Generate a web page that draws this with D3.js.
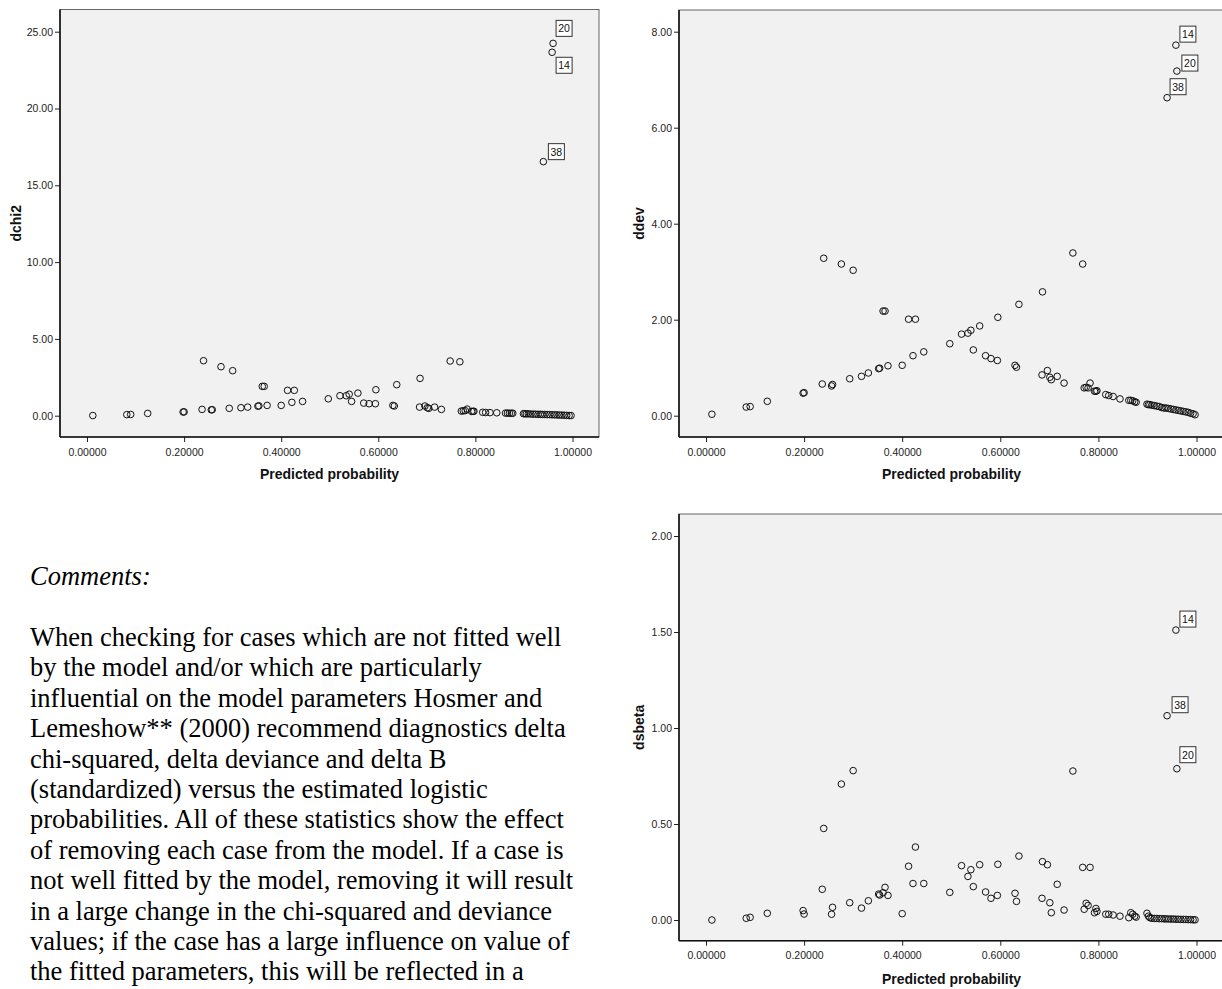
<!DOCTYPE html>
<html>
<head>
<meta charset="utf-8">
<script src="https://cdn.jsdelivr.net/npm/d3@7"></script>
<style>
  body { margin: 0; background: #fff; }
  svg { display: block; }
</style>
</head>
<body>
<script>
// predicted probability for each case (x axis of all three plots)
var prob = [
  .012, .082, .090, .125, .198, .200, .237, .256, .258, .293, .317, .331, .352, .354,
  .371, .400, .422, .444, .497, .521, .534, .540, .558, .595, .638, .686, .748, .768,
  .240, .276, .300, .361, .365, .413, .427, .545, .570, .581, .594, .630, .633, .685,
  .696, .701, .704, .716, .730, .771, .775, .779, .783, .792, .795, .797, .815, .821,
  .830, .844, .862, .866, .870, .874, .877, .899, .902, .905, .909, .914, .919, .924,
  .929, .934, .938, .943, .948, .953, .958, .963, .968, .973, .978, .983, .988, .993,
  .997,
  .958, .960, .940
];
var dchi2 = [
  .01, .07, .08, .15, .24, .25, .41, .38, .39, .48, .52, .56, .62, .64,
  .67, .67, .87, .93, 1.10, 1.30, 1.30, 1.40, 1.47, 1.69, 2.02, 2.43, 3.56, 3.51,
  3.58, 3.19, 2.93, 1.91, 1.91, 1.65, 1.65, .93, .82, .78, .78, .67, .63, .56,
  .63, .52, .48, .56, .41, .30, .32, .33, .43, .28, .28, .29, .22, .21,
  .20, .19, .17, .17, .16, .16, .16, .13, .13, .12, .12, .11, .10, .10,
  .09, .09, .08, .08, .07, .07, .06, .06, .05, .04, .04, .03, .02, .01,
  .01,
  23.66, 24.24, 16.54
];
var ddev = [
  .03, .18, .19, .30, .47, .48, .66, .62, .65, .77, .82, .89, .98, .99,
  1.04, 1.05, 1.25, 1.33, 1.50, 1.70, 1.72, 1.78, 1.87, 2.05, 2.32, 2.58, 3.39, 3.16,
  3.28, 3.16, 3.03, 2.18, 2.18, 2.01, 2.01, 1.37, 1.25, 1.19, 1.15, 1.05, 1.01, .85,
  .94, .80, .75, .82, .68, .58, .59, .58, .68, .51, .51, .52, .44, .42,
  .40, .35, .32, .32, .31, .29, .28, .24, .23, .23, .22, .21, .20, .19,
  .17, .16, .16, .15, .14, .13, .12, .11, .10, .09, .08, .07, .05, .04,
  .02,
  7.72, 7.18, 6.625
];
var dsbeta = [
  .000, .009, .014, .035, .049, .031, .160, .030, .066, .090, .062, .100, .135, .130,
  .128, .033, .190, .190, .144, .283, .227, .262, .288, .290, .333, .304, .776, .274,
  .477, .708, .778, .142, .170, .280, .380, .174, .146, .113, .128, .139, .097, .113,
  .288, .090, .038, .186, .052, .056, .087, .076, .274, .038, .060, .045, .030, .030,
  .026, .020, .012, .038, .030, .020, .015, .035, .020, .012, .009, .008, .008, .007,
  .007, .006, .006, .005, .005, .005, .004, .004, .003, .003, .003, .002, .002, .001,
  .001,
  1.51, .788, 1.064
];
// the last three cases are the labelled outliers
var outlierIds = ["14", "20", "38"];

var xTicks = [0, .2, .4, .6, .8, 1];
var dchi2Ticks = [0, 5, 10, 15, 20, 25];
var ddevTicks = [0, 2, 4, 6, 8];
var dsbetaTicks = [0, .5, 1, 1.5, 2];

var W = 1222, H = 989;
var svg = d3.select("body").append("svg")
  .attr("width", W)
  .attr("height", H)
  .style("font-family", "'Liberation Sans', Arial, sans-serif");

var panels = [
  { vals: dchi2, ticks: dchi2Ticks, title: "dchi2",
    frame: [60, 9.5, 599, 437], xr: [87, 572.5], yd: [0, 25], yr: [415.7, 31.7],
    titleX: 20.5, xLabY: 456, xTitleY: 479,
    off: { "14": [4, 5], "20": [3, -23], "38": [5, -18] } },
  { vals: ddev, ticks: ddevTicks, title: "ddev",
    frame: [679, 10, 1240, 437], xr: [706, 1196.5], yd: [0, 8], yr: [415.7, 31.7],
    titleX: 644, xLabY: 456, xTitleY: 479,
    off: { "14": [4, -19], "20": [5, -16], "38": [3, -19] } },
  { vals: dsbeta, ticks: dsbetaTicks, title: "dsbeta",
    frame: [679, 514, 1240, 940.7], xr: [706, 1196.5], yd: [0, 2], yr: [920, 536],
    titleX: 644, xLabY: 959, xTitleY: 984,
    off: { "14": [4, -19], "20": [3, -22], "38": [5, -19] } }
];

panels.forEach(function(p) {
  var f = p.frame;
  var x = d3.scaleLinear().domain([0, 1]).range(p.xr);
  var y = d3.scaleLinear().domain(p.yd).range(p.yr);
  var g = svg.append("g");

  g.append("rect")
    .attr("x", f[0]).attr("y", f[1])
    .attr("width", f[2] - f[0]).attr("height", f[3] - f[1])
    .attr("fill", "#f0f1f0")
    .attr("stroke", "#666")
    .attr("stroke-width", 1);

  // axes
  var ya = g.append("g")
    .attr("transform", "translate(" + f[0] + ",0)")
    .call(d3.axisLeft(y).tickValues(p.ticks).tickFormat(d3.format(".2f"))
      .tickSize(5).tickPadding(2));
  var xa = g.append("g")
    .attr("transform", "translate(0," + f[3] + ")")
    .call(d3.axisBottom(x).tickValues(xTicks).tickFormat(d3.format(".5f"))
      .tickSize(5).tickPadding(4));
  [ya, xa].forEach(function(a) {
    a.select(".domain").remove();
    a.selectAll("line").attr("stroke", "#222");
    a.selectAll("text").attr("fill", "#222").style("font-size", "10.5px")
      .style("font-family", "'Liberation Sans', Arial, sans-serif");
  });
  xa.selectAll("text").attr("y", p.xLabY - f[3]).attr("dy", 0);

  g.append("line")
    .attr("x1", f[0]).attr("x2", f[0]).attr("y1", f[1]).attr("y2", f[3])
    .attr("stroke", "#111").attr("stroke-width", 1.6);
  g.append("line")
    .attr("x1", f[0]).attr("x2", f[2]).attr("y1", f[3]).attr("y2", f[3])
    .attr("stroke", "#111").attr("stroke-width", 1.6);

  // titles
  g.append("text")
    .attr("x", (f[0] + Math.min(f[2], 1224)) / 2)
    .attr("y", p.xTitleY)
    .attr("text-anchor", "middle")
    .style("font-size", "14px").style("font-weight", "bold")
    .attr("fill", "#111")
    .text("Predicted probability");
  g.append("text")
    .attr("transform", "translate(" + p.titleX + "," + ((f[1] + f[3]) / 2) + ") rotate(-90)")
    .attr("text-anchor", "middle")
    .style("font-size", "14px").style("font-weight", "bold")
    .attr("fill", "#111")
    .text(p.title);

  // points
  var pts = prob.map(function(v, i) { return { x: v, y: p.vals[i], i: i }; });
  g.selectAll("circle").data(pts).enter().append("circle")
    .attr("cx", function(d) { return x(d.x); })
    .attr("cy", function(d) { return y(d.y); })
    .attr("r", 3.3)
    .attr("fill", "none")
    .attr("stroke", "#111")
    .attr("stroke-width", 1);

  // case labels for the outliers
  var first = prob.length - outlierIds.length;
  var lab = g.selectAll(".lab").data(pts.slice(first)).enter().append("g")
    .attr("class", "lab")
    .attr("transform", function(d) {
      var o = p.off[outlierIds[d.i - first]];
      return "translate(" + (x(d.x) + o[0]) + "," + (y(d.y) + o[1]) + ")";
    });
  lab.append("rect")
    .attr("width", 16).attr("height", 16)
    .attr("fill", "#fff").attr("stroke", "#333").attr("stroke-width", 1);
  lab.append("text")
    .attr("x", 8).attr("y", 12)
    .attr("text-anchor", "middle")
    .style("font-size", "10.5px")
    .attr("fill", "#111")
    .text(function(d) { return outlierIds[d.i - first]; });
});

// comments text
var lines = [
  "When checking for cases which are not fitted well",
  "by the model and/or which are particularly",
  "influential on the model parameters Hosmer and",
  "Lemeshow** (2000) recommend diagnostics delta",
  "chi-squared, delta deviance and delta B",
  "(standardized) versus the estimated logistic",
  "probabilities. All of these statistics show the effect",
  "of removing each case from the model. If a case is",
  "not well fitted by the model, removing it will result",
  "in a large change in the chi-squared and deviance",
  "values; if the case has a large influence on value of",
  "the fitted parameters, this will be reflected in a"
];
var txt = svg.append("g")
  .style("font-family", "'Liberation Serif', 'Times New Roman', serif")
  .style("font-size", "26.5px")
  .attr("fill", "#000");
txt.append("text")
  .attr("x", 30).attr("y", 585)
  .style("font-style", "italic")
  .text("Comments:");
txt.selectAll(".ln").data(lines).enter().append("text")
  .attr("class", "ln")
  .attr("x", 30)
  .attr("y", function(d, i) { return 646 + i * 30.4; })
  .text(function(d) { return d; });
</script>
</body>
</html>
